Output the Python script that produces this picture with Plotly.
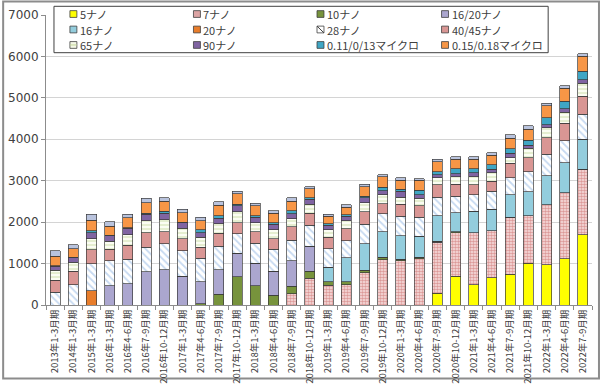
import plotly.graph_objects as go

categories = [
    "2013年1-3月期", "2014年1-3月期", "2015年1-3月期",
    "2016年1-3月期", "2016年4-6月期", "2016年7-9月期", "2016年10-12月期",
    "2017年1-3月期", "2017年4-6月期", "2017年7-9月期", "2017年10-12月期",
    "2018年1-3月期", "2018年4-6月期", "2018年7-9月期", "2018年10-12月期",
    "2019年1-3月期", "2019年4-6月期", "2019年7-9月期", "2019年10-12月期",
    "2020年1-3月期", "2020年4-6月期", "2020年7-9月期", "2020年10-12月期",
    "2021年1-3月期", "2021年4-6月期", "2021年7-9月期", "2021年10-12月期",
    "2022年1-3月期", "2022年4-6月期", "2022年7-9月期",
]

nm5 = [0, 0, 0, 0, 0, 0, 0, 0, 0, 0, 0, 0, 0, 0, 0, 0, 0, 0, 0, 0, 0,
       280, 700, 490, 660, 747, 1010, 971, 1111, 1694]
nm7 = [0, 0, 0, 0, 0, 0, 0, 0, 0, 0, 0, 0, 0, 272, 645, 473, 490, 777, 1096, 1073, 1111,
       1236, 1050, 1260, 1137, 1376, 1150, 1446, 1595, 1579]
nm10 = [0, 0, 0, 0, 0, 0, 0, 0, 25, 257, 684, 467, 233, 178, 172, 94, 77, 63, 54, 27, 39,
        20, 20, 0, 0, 0, 0, 0, 0, 0]
nm16_20 = [0, 0, 0, 467, 513, 800, 855, 700, 542, 598, 567, 543, 584, 623, 606, 0, 0, 0, 0, 0, 0,
           0, 0, 0, 0, 0, 0, 0, 0, 0]
nm16 = [0, 0, 0, 0, 0, 0, 0, 0, 0, 0, 0, 0, 0, 0, 0, 350, 568, 637, 623, 570, 507,
        624, 454, 513, 520, 544, 570, 700, 724, 731]
nm20 = [0, 0, 350, 0, 0, 0, 0, 0, 0, 0, 0, 0, 0, 0, 0, 0, 0, 0, 0, 0, 0,
        0, 0, 0, 0, 0, 0, 0, 0, 0]
nm28 = [310, 490, 645, 598, 597, 600, 622, 606, 560, 568, 467, 475, 528, 490, 505, 443, 420, 474, 427, 467, 466,
        445, 404, 404, 428, 404, 481, 523, 536, 606]
nm40_45 = [290, 326, 335, 280, 337, 350, 296, 288, 273, 310, 265, 288, 249, 327, 288, 280, 280, 304, 250, 296, 272,
           295, 288, 233, 248, 349, 349, 403, 427, 430]
nm65 = [240, 217, 264, 195, 248, 280, 287, 256, 233, 234, 272, 210, 217, 193, 217, 171, 195, 218, 217, 172, 178,
        171, 178, 194, 194, 140, 220, 234, 257, 310]
nm90 = [93, 110, 156, 130, 155, 155, 156, 133, 117, 133, 140, 140, 133, 120, 117, 117, 107, 117, 93, 140, 94,
        79, 76, 93, 86, 100, 75, 78, 93, 93]
um011_013 = [10, 10, 40, 15, 20, 35, 47, 20, 62, 60, 35, 37, 36, 70, 40, 30, 38, 40, 77, 55, 101,
             61, 120, 103, 110, 111, 118, 162, 180, 194]
um015_018 = [230, 207, 255, 220, 237, 253, 247, 227, 218, 250, 253, 235, 236, 237, 217, 179, 182, 230, 257, 217, 249,
             249, 233, 233, 234, 256, 264, 289, 310, 373]
um_top = [134, 100, 140, 100, 78, 100, 80, 87, 93, 77, 62, 60, 64, 80, 53, 48, 63, 55, 56, 53, 33,
          60, 57, 57, 63, 78, 86, 64, 57, 60]

y_ticks = [0, 1000, 2000, 3000, 4000, 5000, 6000, 7000]

series = [
    ("5ナノ", nm5, dict(color="#ffff00")),
    ("7ナノ", nm7, dict(color="#e8b0b0", pattern=dict(shape=".", fgcolor="#c0504d", bgcolor="#f8e2e2", size=3, solidity=0.55))),
    ("10ナノ", nm10, dict(color="#77933c")),
    ("16/20ナノ", nm16_20, dict(color="#aba6cf")),
    ("16ナノ", nm16, dict(color="#93cddd")),
    ("20ナノ", nm20, dict(color="#e87d2b")),
    ("28ナノ", nm28, dict(color="#ffffff", pattern=dict(shape="\\", fgcolor="#8eb4e3", bgcolor="#ffffff", size=5, solidity=0.35))),
    ("40/45ナノ", nm40_45, dict(color="#d99694")),
    ("65ナノ", nm65, dict(color="#f4f8e6", pattern=dict(shape="-", fgcolor="#c4d79b", bgcolor="#fbfdf3", size=4, solidity=0.4))),
    ("90ナノ", nm90, dict(color="#8064a2")),
    ("0.11/0/13マイクロ", um011_013, dict(color="#3fa6c4")),
    ("0.15/0.18マイクロ", um015_018, dict(color="#f79646")),
    ("0.25マイクロ以上", um_top, dict(color="#b9c3dd")),
]

# legend swatch fills (small squares, pattern approximated)
legend_fill = ["#ffff00", "#dca4a4", "#77933c", "#aba6cf", "#93cddd", "#e87d2b",
               "#ffffff", "#d99694", "#f4f8e6", "#8064a2", "#3fa6c4", "#f79646"]

fig = go.Figure()
for i, (name, vals, mk) in enumerate(series):
    mk = dict(mk)
    mk["line"] = dict(color="#3a3a3a", width=0.7)
    fig.add_trace(go.Bar(
        x=categories, y=vals, name=name, marker=mk, showlegend=False,
    ))

# layout geometry (pixels)
W, H = 600, 392
ML, MR, MT, MB = 44, 8, 15, 77
PW, PH = W - ML - MR, H - MT - MB


def px(x):
    return (x - ML) / PW


def py(y):
    return (H - MB - y) / PH


shapes = [
    dict(type="rect", xref="paper", yref="paper",
         x0=px(1), x1=px(599), y0=py(391), y1=py(1),
         line=dict(color="#8c8c8c", width=2), fillcolor="rgba(0,0,0,0)", layer="below"),
    dict(type="rect", xref="paper", yref="paper",
         x0=px(52), x1=px(548), y0=py(54), y1=py(6),
         line=dict(color="#404040", width=1), fillcolor="white", layer="above"),
]
annotations = []
col_x = [68, 192, 316, 441]
row_y = [14.0, 30.0, 46.0]
for i in range(12):
    r, c = divmod(i, 4)
    sx, sy = col_x[c], row_y[r]
    shapes.append(dict(type="rect", xref="paper", yref="paper",
                       x0=px(sx), x1=px(sx + 7), y0=py(sy + 3.5), y1=py(sy - 3.5),
                       line=dict(color="#404040", width=0.8), fillcolor=legend_fill[i], layer="above"))
    if i == 6:
        shapes.append(dict(type="line", xref="paper", yref="paper",
                           x0=px(sx), x1=px(sx + 7), y0=py(sy - 3.5), y1=py(sy + 3.5),
                           line=dict(color="#404040", width=1), layer="above"))
    if i == 8:
        shapes.append(dict(type="line", xref="paper", yref="paper",
                           x0=px(sx), x1=px(sx + 7), y0=py(sy), y1=py(sy),
                           line=dict(color="#c4d79b", width=1), layer="above"))
    annotations.append(dict(xref="paper", yref="paper", x=px(sx + 9), y=py(sy),
                            xanchor="left", yanchor="middle", showarrow=False,
                            borderpad=0,
                            text=series[i][0],
                            font=dict(size=11, color="#404040",
                                      family="Noto Sans CJK JP, sans-serif")))

fig.update_layout(
    width=W, height=H,
    barmode="stack", bargap=0.45,
    paper_bgcolor="white", plot_bgcolor="white",
    margin=dict(l=ML, r=MR, t=MT, b=MB),
    font=dict(family="Noto Sans CJK JP, DejaVu Sans, sans-serif", color="#404040"),
    showlegend=False,
    shapes=shapes,
    annotations=annotations,
)

fig.update_xaxes(
    type="category", tickangle=-90,
    tickfont=dict(size=9.5, family="Noto Sans CJK JP, sans-serif", color="#404040"),
    showline=True, linecolor="#8c8c8c", linewidth=1,
    ticks="outside", tickson="boundaries", ticklen=4, tickcolor="#8c8c8c",
    showgrid=False,
)
fig.update_yaxes(
    range=[0, 7000], tickvals=y_ticks,
    tickfont=dict(size=12, family="DejaVu Sans, sans-serif", color="#404040"),
    showline=True, linecolor="#8c8c8c", linewidth=1,
    ticks="outside", ticklen=4, tickcolor="#8c8c8c",
    showgrid=True, gridcolor="#d4d4d4", gridwidth=1,
    zeroline=False,
)

fig.write_html("out.html", config={"displayModeBar": False},
               post_script="document.body.style.margin='0';")
